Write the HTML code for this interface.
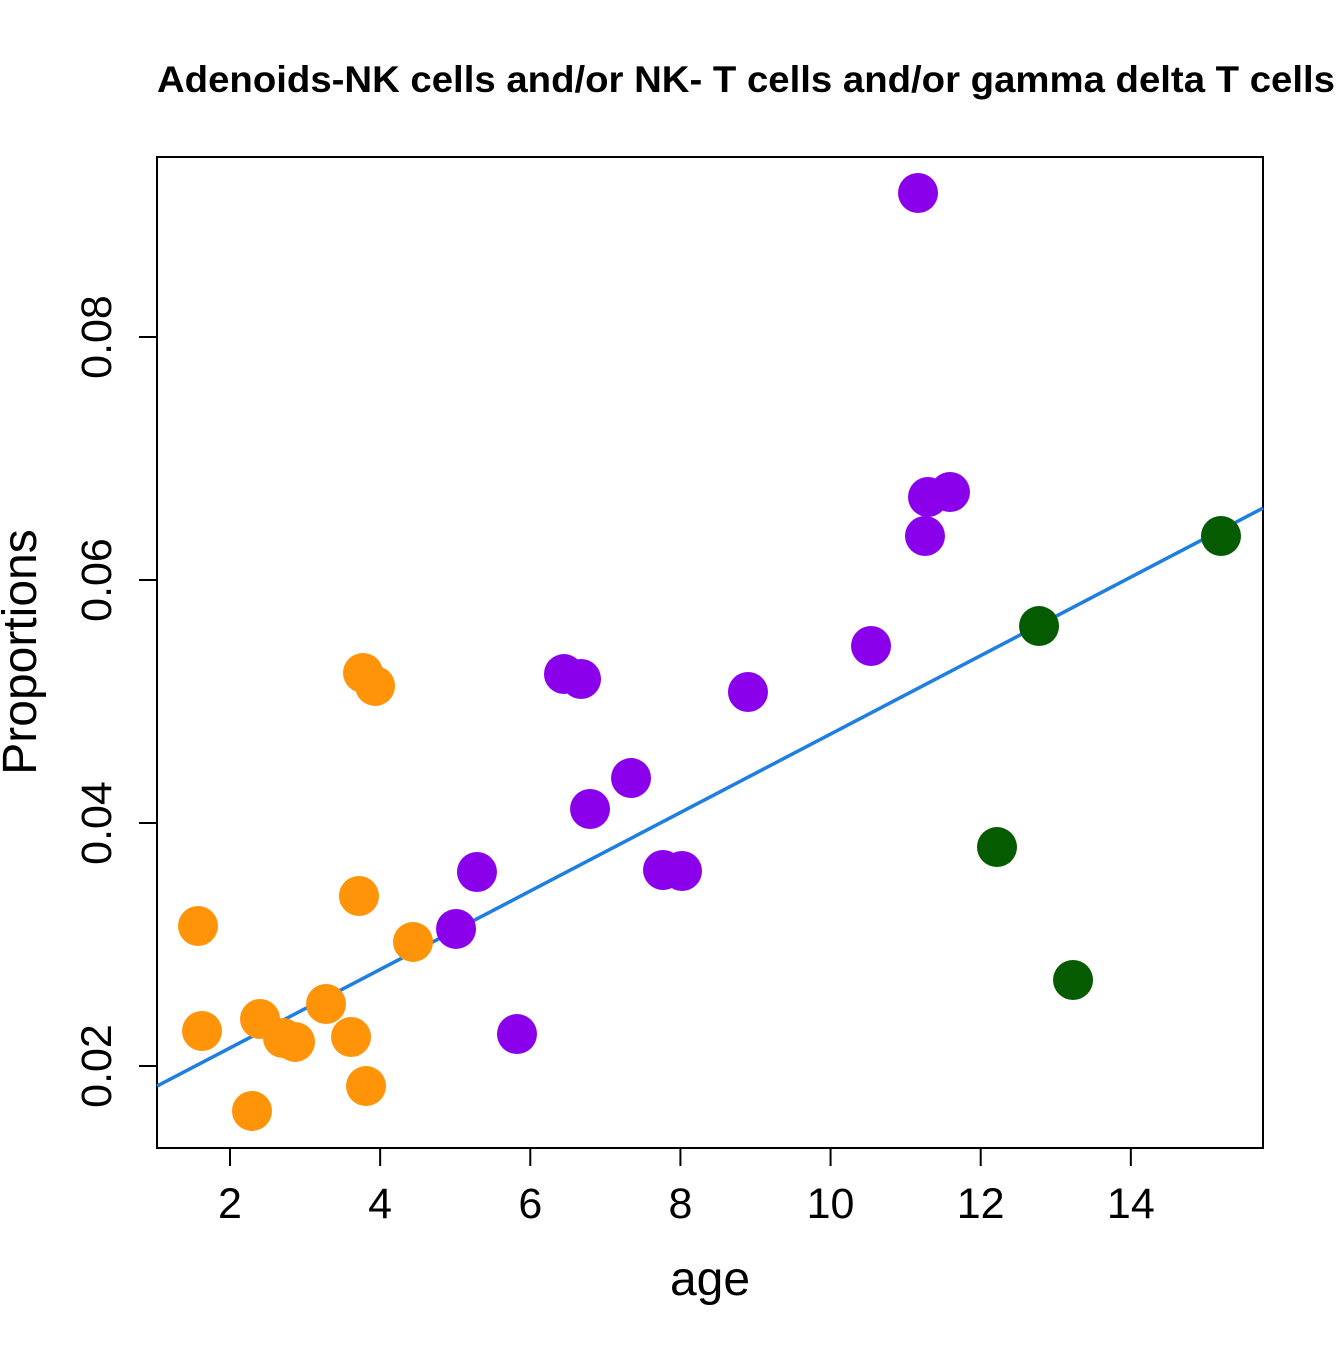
<!DOCTYPE html>
<html><head><meta charset="utf-8"><style>
html,body{margin:0;padding:0;background:#fff;}
svg text{font-family:"Liberation Sans",Arial,sans-serif;}
</style></head><body>
<svg id="chart" width="1344" height="1344" xmlns="http://www.w3.org/2000/svg">
<rect width="1344" height="1344" fill="#fff"/>
<text x="157" y="92" font-size="37" font-weight="bold" textLength="1178" lengthAdjust="spacingAndGlyphs">Adenoids-NK cells and/or NK- T cells and/or gamma delta T cells</text>
<rect x="157" y="157" width="1106" height="991" fill="none" stroke="#000" stroke-width="2"/>
<text x="710" y="1295" text-anchor="middle" font-size="48">age</text>
<text transform="translate(36,652) rotate(-90)" text-anchor="middle" font-size="48">Proportions</text>
<g id="axes"></g><g id="line"></g><g id="points"></g>
</svg>
<script>
const xTicks=[2,4,6,8,10,12,14];
const yTicks=[0.02,0.04,0.06,0.08];
const yTickLabels=["0.02","0.04","0.06","0.08"];
const orangeX=[1.574,1.627,2.293,2.400,2.706,2.866,3.279,3.612,3.718,3.812,3.772,3.932,4.438];
const orangeY=[0.03152,0.02288,0.01630,0.02387,0.02230,0.02198,0.02510,0.02239,0.03399,0.01835,0.05235,0.05128,0.03021];
const purpleX=[5.011,5.290,5.823,6.449,6.676,6.796,7.342,7.768,8.021,8.900,10.539,11.165,11.258,11.298,11.591];
const purpleY=[0.03128,0.03597,0.02263,0.05226,0.05185,0.04115,0.04370,0.03613,0.03605,0.05078,0.05457,0.09185,0.06362,0.06683,0.06724];
const greenX=[12.217,12.777,13.230,15.201];
const greenY=[0.03802,0.05621,0.02708,0.06362];
const fitSlope=0.003229, fitIntercept=0.01503;
const xRange=[1.028,15.761];

const NS="http://www.w3.org/2000/svg";
function sx(v){return 230+(v-2)*75.07;}
function sy(v){return 1066-(v-0.02)*12150;}
function mk(tag,attrs,parent){const e=document.createElementNS(NS,tag);for(const k in attrs)e.setAttribute(k,attrs[k]);parent.appendChild(e);return e;}
const axes=document.getElementById('axes');
mk('line',{x1:sx(2),x2:sx(14),y1:1148,y2:1148,stroke:'#000','stroke-width':2},axes);
xTicks.forEach(t=>{
  const l=mk('line',{x1:sx(t),x2:sx(t),y1:1148,y2:1166,stroke:'#000','stroke-width':2},axes);
  
  
  const tx=mk('text',{x:sx(t),y:1218,'text-anchor':'middle','font-size':43},axes);
  tx.textContent=t;
  
  
});
mk('line',{x1:157,x2:157,y1:sy(0.02),y2:sy(0.08),stroke:'#000','stroke-width':2},axes);
yTicks.forEach((t,i)=>{
  const l=mk('line',{x1:139,x2:157,y1:sy(t),y2:sy(t),stroke:'#000','stroke-width':2},axes);
  
  
  const tx=mk('text',{transform:`translate(111,${sy(t)}) rotate(-90)`,'text-anchor':'middle','font-size':43},axes);
  tx.textContent=yTickLabels[i];
  
  
});
const lg=document.getElementById('line');
const fl=mk('line',{x1:sx(xRange[0]),y1:sy(fitIntercept+fitSlope*xRange[0]),x2:sx(xRange[1]),y2:sy(fitIntercept+fitSlope*xRange[1]),stroke:'#1f7fe0','stroke-width':3.5},lg);


const pg=document.getElementById('points');
[[orangeX,orangeY,'#ff9409','orange'],[purpleX,purpleY,'#8b00ea','purple'],[greenX,greenY,'#055b00','green']].forEach(([xs,ys,c,n])=>{
  xs.forEach((x,i)=>{
    const p=mk('circle',{cx:sx(x),cy:sy(ys[i]),r:20,fill:c},pg);
    
    
  });
});
</script>
</body></html>
